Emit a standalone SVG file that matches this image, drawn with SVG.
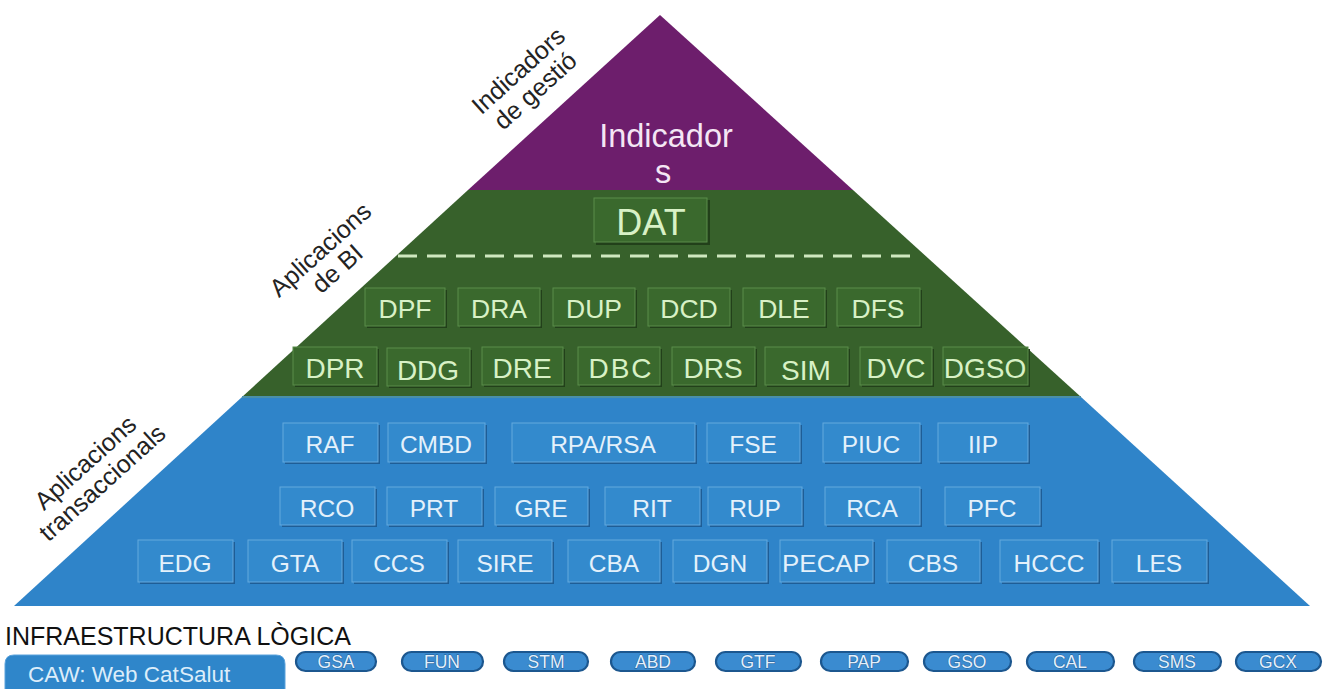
<svg xmlns="http://www.w3.org/2000/svg" width="1333" height="689" viewBox="0 0 1333 689">
  <style>
    text { font-family: "Liberation Sans", Arial, sans-serif; }
    .lbl { font-size: 25px; fill: #232323; text-anchor: middle; }
    .gsh { fill: #22401a; }
    .gfc { fill: #3a692d; stroke: #5a8d4a; stroke-width: 1; }
    .gtx { fill: #d8f1c6; text-anchor: middle; }
    .bsh { fill: #1e5d96; }
    .bfc { fill: #338acd; stroke: #64a9de; stroke-width: 1; }
    .btx { fill: #e4f1fb; text-anchor: middle; font-size: 24.5px; }
    .pill { fill: #3a8bd0; stroke: #1c578f; stroke-width: 2.2; }
    .ptx { fill: #e2f0fc; stroke: #1c578f; stroke-width: 0.8; paint-order: stroke; text-anchor: middle; font-size: 17.5px; }
  </style>

  <rect width="1333" height="689" fill="#ffffff"/>

  <!-- pyramid layers -->
  <g id="layers">
    <polygon id="layer-indicadors" points="660,15 853,190 468,190" fill="#6d1e6c"/>
    <polygon id="layer-bi" points="468,190 853,190 1081,397 242,397" fill="#37612b"/>
    <polygon id="layer-transaccionals" points="242,397 1081,397 1310,606 14,606" fill="#2f84c9"/>
    <line x1="242" y1="397" x2="1081" y2="397" stroke="#4a8fa8" stroke-width="2"/>
  </g>

  <!-- layer captions along the left edge -->
  <g id="captions">
    <text class="lbl" transform="translate(524,77) rotate(-42)">Indicadors</text>
    <text class="lbl" transform="translate(541,97) rotate(-42)">de gestió</text>
    <text class="lbl" transform="translate(326,256) rotate(-42)">Aplicacions</text>
    <text class="lbl" transform="translate(343,275) rotate(-42)">de BI</text>
    <text class="lbl" transform="translate(91,469) rotate(-42)">Aplicacions</text>
    <text class="lbl" transform="translate(108,489) rotate(-42)">transaccionals</text>
  </g>

  <!-- top layer -->
  <g id="indicadors">
    <text x="666" y="147" font-size="32.5" fill="#f4e6f4" text-anchor="middle">Indicador</text>
    <text x="663" y="183" font-size="32.5" fill="#f4e6f4" text-anchor="middle">s</text>
  </g>

  <!-- BI layer -->
  <g id="dat">
    <rect class="gsh" x="596" y="200" width="114" height="45"/>
    <rect class="gfc" x="594" y="198" width="113" height="44"/>
    <text class="gtx" x="651" y="235" font-size="36">DAT</text>
  </g>
  <g id="connectors">
    <line x1="398" y1="256" x2="915" y2="256" stroke="#cfe8bf" stroke-width="3" stroke-dasharray="19 10"/>
  </g>

  <g font-size="26.5">
    <g id="dpf"><rect class="gsh" x="367" y="290" width="80" height="38"/><rect class="gfc" x="365" y="288" width="80" height="38"/><text class="gtx" x="405" y="318">DPF</text></g>
    <g id="dra"><rect class="gsh" x="460" y="290" width="82" height="38"/><rect class="gfc" x="458" y="288" width="82" height="38"/><text class="gtx" x="499" y="318">DRA</text></g>
    <g id="dup"><rect class="gsh" x="555" y="290" width="82" height="38"/><rect class="gfc" x="553" y="288" width="82" height="38"/><text class="gtx" x="594" y="318">DUP</text></g>
    <g id="dcd"><rect class="gsh" x="650" y="290" width="82" height="38"/><rect class="gfc" x="648" y="288" width="82" height="38"/><text class="gtx" x="689" y="318">DCD</text></g>
    <g id="dle"><rect class="gsh" x="745" y="290" width="82" height="38"/><rect class="gfc" x="743" y="288" width="82" height="38"/><text class="gtx" x="784" y="318">DLE</text></g>
    <g id="dfs"><rect class="gsh" x="839" y="290" width="83" height="38"/><rect class="gfc" x="837" y="288" width="83" height="38"/><text class="gtx" x="878" y="318">DFS</text></g>
  </g>

  <g font-size="28">
    <g id="dpr"><rect class="gsh" x="295" y="349" width="84" height="38"/><rect class="gfc" x="293" y="347" width="84" height="38"/><text class="gtx" x="335" y="378">DPR</text></g>
    <g id="ddg"><rect class="gsh" x="389" y="350" width="83" height="38"/><rect class="gfc" x="387" y="348" width="83" height="38"/><text class="gtx" x="428" y="380">DDG</text></g>
    <g id="dre"><rect class="gsh" x="484" y="349" width="81" height="38"/><rect class="gfc" x="482" y="347" width="81" height="38"/><text class="gtx" x="522" y="378">DRE</text></g>
    <g id="dbc"><rect class="gsh" x="580" y="349" width="82" height="38"/><rect class="gfc" x="578" y="347" width="82" height="38"/><text class="gtx" x="621" y="378" letter-spacing="2">DBC</text></g>
    <g id="drs"><rect class="gsh" x="674" y="349" width="83" height="38"/><rect class="gfc" x="672" y="347" width="83" height="38"/><text class="gtx" x="713" y="378">DRS</text></g>
    <g id="sim"><rect class="gsh" x="767" y="349" width="83" height="38"/><rect class="gfc" x="765" y="347" width="83" height="38"/><text class="gtx" x="806" y="380">SIM</text></g>
    <g id="dvc"><rect class="gsh" x="862" y="349" width="72" height="38"/><rect class="gfc" x="860" y="347" width="72" height="38"/><text class="gtx" x="896" y="378">DVC</text></g>
    <g id="dgso"><rect class="gsh" x="945" y="349" width="85" height="38"/><rect class="gfc" x="943" y="347" width="85" height="38"/><text class="gtx" x="985" y="378">DGSO</text></g>
  </g>

  <!-- transactional layer -->
  <g>
    <g id="raf"><rect class="bsh" x="285" y="425" width="95" height="39"/><rect class="bfc" x="283" y="423" width="95" height="39"/><text class="btx" x="330" y="453">RAF</text></g>
    <g id="cmbd"><rect class="bsh" x="390" y="425" width="97" height="39"/><rect class="bfc" x="388" y="423" width="97" height="39"/><text class="btx" x="436" y="453">CMBD</text></g>
    <g id="rpa-rsa"><rect class="bsh" x="514" y="425" width="183" height="39"/><rect class="bfc" x="512" y="423" width="183" height="39"/><text class="btx" x="603" y="453">RPA/RSA</text></g>
    <g id="fse"><rect class="bsh" x="709" y="425" width="93" height="39"/><rect class="bfc" x="707" y="423" width="93" height="39"/><text class="btx" x="753" y="453">FSE</text></g>
    <g id="piuc"><rect class="bsh" x="825" y="425" width="97" height="39"/><rect class="bfc" x="823" y="423" width="97" height="39"/><text class="btx" x="871" y="453">PIUC</text></g>
    <g id="iip"><rect class="bsh" x="940" y="425" width="90" height="39"/><rect class="bfc" x="938" y="423" width="90" height="39"/><text class="btx" x="983" y="453">IIP</text></g>

    <g id="rco"><rect class="bsh" x="282" y="489" width="95" height="38"/><rect class="bfc" x="280" y="487" width="95" height="38"/><text class="btx" x="327" y="517">RCO</text></g>
    <g id="prt"><rect class="bsh" x="389" y="489" width="95" height="38"/><rect class="bfc" x="387" y="487" width="95" height="38"/><text class="btx" x="434" y="517">PRT</text></g>
    <g id="gre"><rect class="bsh" x="497" y="489" width="93" height="38"/><rect class="bfc" x="495" y="487" width="93" height="38"/><text class="btx" x="541" y="517">GRE</text></g>
    <g id="rit"><rect class="bsh" x="607" y="489" width="95" height="38"/><rect class="bfc" x="605" y="487" width="95" height="38"/><text class="btx" x="652" y="517">RIT</text></g>
    <g id="rup"><rect class="bsh" x="710" y="489" width="94" height="38"/><rect class="bfc" x="708" y="487" width="94" height="38"/><text class="btx" x="755" y="517">RUP</text></g>
    <g id="rca"><rect class="bsh" x="827" y="489" width="95" height="38"/><rect class="bfc" x="825" y="487" width="95" height="38"/><text class="btx" x="872" y="517">RCA</text></g>
    <g id="pfc"><rect class="bsh" x="947" y="489" width="95" height="38"/><rect class="bfc" x="945" y="487" width="95" height="38"/><text class="btx" x="992" y="517">PFC</text></g>

    <g id="edg"><rect class="bsh" x="140" y="542" width="95" height="42"/><rect class="bfc" x="138" y="540" width="95" height="42"/><text class="btx" x="185" y="572">EDG</text></g>
    <g id="gta"><rect class="bsh" x="250" y="542" width="94" height="42"/><rect class="bfc" x="248" y="540" width="94" height="42"/><text class="btx" x="295" y="572">GTA</text></g>
    <g id="ccs"><rect class="bsh" x="354" y="542" width="95" height="42"/><rect class="bfc" x="352" y="540" width="95" height="42"/><text class="btx" x="399" y="572">CCS</text></g>
    <g id="sire"><rect class="bsh" x="460" y="542" width="94" height="42"/><rect class="bfc" x="458" y="540" width="94" height="42"/><text class="btx" x="505" y="572">SIRE</text></g>
    <g id="cba"><rect class="bsh" x="570" y="542" width="92" height="42"/><rect class="bfc" x="568" y="540" width="92" height="42"/><text class="btx" x="614" y="572">CBA</text></g>
    <g id="dgn"><rect class="bsh" x="675" y="542" width="94" height="42"/><rect class="bfc" x="673" y="540" width="94" height="42"/><text class="btx" x="720" y="572">DGN</text></g>
    <g id="pecap"><rect class="bsh" x="782" y="542" width="93" height="42"/><rect class="bfc" x="780" y="540" width="93" height="42"/><text class="btx" x="826" y="572" textLength="88" lengthAdjust="spacingAndGlyphs">PECAP</text></g>
    <g id="cbs"><rect class="bsh" x="889" y="542" width="93" height="42"/><rect class="bfc" x="887" y="540" width="93" height="42"/><text class="btx" x="933" y="572">CBS</text></g>
    <g id="hccc"><rect class="bsh" x="1002" y="542" width="98" height="42"/><rect class="bfc" x="1000" y="540" width="98" height="42"/><text class="btx" x="1049" y="572">HCCC</text></g>
    <g id="les"><rect class="bsh" x="1114" y="542" width="95" height="42"/><rect class="bfc" x="1112" y="540" width="95" height="42"/><text class="btx" x="1159" y="572">LES</text></g>
  </g>

  <!-- logical infrastructure strip -->
  <g id="infraestructura">
    <text x="5" y="645" font-size="25" fill="#111111">INFRAESTRUCTURA LÒGICA</text>
  </g>
  <g id="caw">
    <path d="M5,700 L5,664 Q5,655 14,655 L276,655 Q285,655 285,664 L285,700 Z" fill="#2f86ca" stroke="#5aa2dc" stroke-width="1"/>
    <text x="28" y="682" font-size="22.5" fill="#dcedfa">CAW: Web CatSalut</text>
  </g>
  <g id="gsa"><rect class="pill" x="296" y="652" width="80" height="19" rx="9.5"/><text class="ptx" x="336" y="668">GSA</text></g>
  <g id="fun"><rect class="pill" x="402" y="652" width="81" height="19" rx="9.5"/><text class="ptx" x="442" y="668">FUN</text></g>
  <g id="stm"><rect class="pill" x="504" y="652" width="84" height="19" rx="9.5"/><text class="ptx" x="546" y="668">STM</text></g>
  <g id="abd"><rect class="pill" x="611" y="652" width="84" height="19" rx="9.5"/><text class="ptx" x="653" y="668">ABD</text></g>
  <g id="gtf"><rect class="pill" x="716" y="652" width="85" height="19" rx="9.5"/><text class="ptx" x="758" y="668">GTF</text></g>
  <g id="pap"><rect class="pill" x="821" y="652" width="87" height="19" rx="9.5"/><text class="ptx" x="864" y="668">PAP</text></g>
  <g id="gso"><rect class="pill" x="924" y="652" width="87" height="19" rx="9.5"/><text class="ptx" x="967" y="668">GSO</text></g>
  <g id="cal"><rect class="pill" x="1027" y="652" width="87" height="19" rx="9.5"/><text class="ptx" x="1070" y="668">CAL</text></g>
  <g id="sms"><rect class="pill" x="1134" y="652" width="87" height="19" rx="9.5"/><text class="ptx" x="1177" y="668">SMS</text></g>
  <g id="gcx"><rect class="pill" x="1236" y="652" width="85" height="19" rx="9.5"/><text class="ptx" x="1278" y="668">GCX</text></g>
</svg>
